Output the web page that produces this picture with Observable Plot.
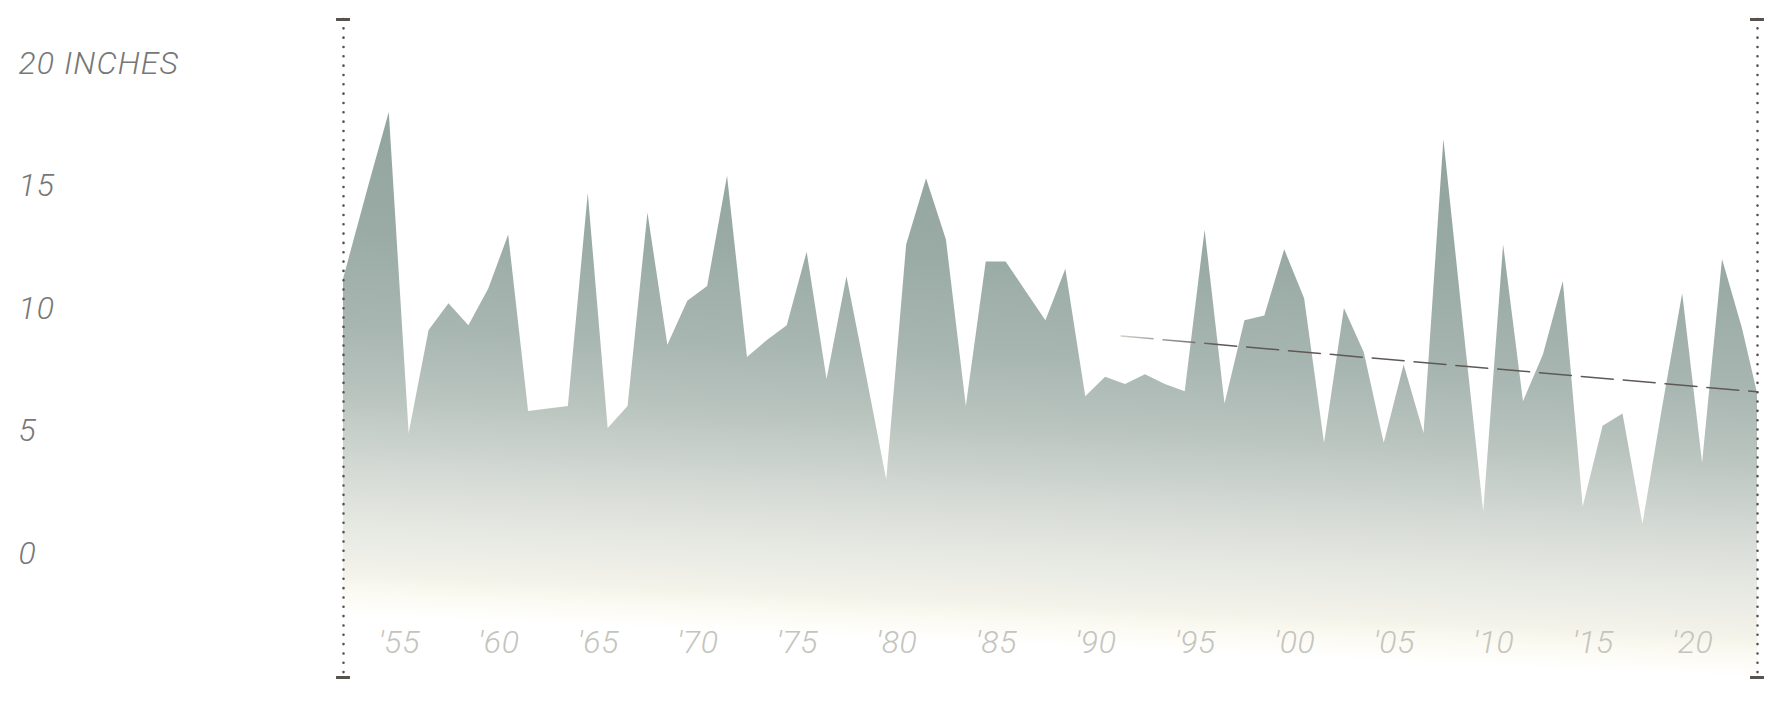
<!DOCTYPE html>
<html>
<head>
<meta charset="utf-8">
<script src="https://cdn.jsdelivr.net/npm/d3@7"></script>
<script src="https://cdn.jsdelivr.net/npm/@observablehq/plot@0.6"></script>
<style>
  html, body { margin: 0; padding: 0; background: #ffffff; }
  #chart svg { display: block; }
</style>
</head>
<body>
<div id="chart"></div>
<script>
// ---- Data (annual totals, inches; plotted at mid-year) ----
const years = [
  1951, 1952, 1953, 1954, 1955, 1956, 1957, 1958, 1959, 1960,
  1961, 1962, 1963, 1964, 1965, 1966, 1967, 1968, 1969, 1970,
  1971, 1972, 1973, 1974, 1975, 1976, 1977, 1978, 1979, 1980,
  1981, 1982, 1983, 1984, 1985, 1986, 1987, 1988, 1989, 1990,
  1991, 1992, 1993, 1994, 1995, 1996, 1997, 1998, 1999, 2000,
  2001, 2002, 2003, 2004, 2005, 2006, 2007, 2008, 2009, 2010,
  2011, 2012, 2013, 2014, 2015, 2016, 2017, 2018, 2019, 2020,
  2021, 2022, 2023
];
const rainfall = [
  9.1, 12.1, 15.1, 18.0, 4.9, 9.1, 10.2, 9.3, 10.8, 13.0,
  5.8, 5.9, 6.0, 14.7, 5.1, 6.0, 13.9, 8.5, 10.3, 10.9,
  15.4, 8.0, 8.7, 9.3, 12.3, 7.1, 11.3, 7.2, 3.0, 12.6,
  15.3, 12.8, 6.0, 11.9, 11.9, 10.7, 9.5, 11.6, 6.4, 7.2,
  6.9, 7.3, 6.9, 6.6, 13.2, 6.1, 9.5, 9.7, 12.4, 10.4,
  4.5, 10.0, 8.2, 4.5, 7.7, 4.9, 16.9, 9.2, 1.7, 12.6,
  6.2, 8.1, 11.1, 1.9, 5.2, 5.7, 1.2, 6.0, 10.6, 3.7,
  12.0, 9.2, 5.7
];

// Trend line (start / end)
const trendYears = [1991.28, 2023.26];
const trendValues = [8.88, 6.6];

// Axis labels
const xTickYears = [1955, 1960, 1965, 1970, 1975, 1980, 1985, 1990, 1995, 2000, 2005, 2010, 2015, 2020];
const xTickLabels = ["'55", "'60", "'65", "'70", "'75", "'80", "'85", "'90", "'95", "'00", "'05", "'10", "'15", "'20"];
const yTickValues = [0, 5, 10, 15, 20];
const yTickLabels = ["0", "5", "10", "15", "20 INCHES"];

// ---- Helpers ----
function yearToDate(y) {
  const yr = Math.floor(y);
  const a = Date.UTC(yr, 0, 1), b = Date.UTC(yr + 1, 0, 1);
  return new Date(a + (y - yr) * (b - a));
}

const xDomain = [yearToDate(1952.2), yearToDate(2023.26)];
const yDomain = [-5.06, 21.8];

const series = years.map((y, i) => ({ date: yearToDate(y + 0.5), value: rainfall[i] }));
const trend = trendYears.map((y, i) => ({ date: yearToDate(y), value: trendValues[i] }));
const xTicks = xTickYears.map((y, i) => ({ date: yearToDate(y), label: xTickLabels[i] }));
const yTicks = yTickValues.map((v, i) => ({ value: v, label: yTickLabels[i] }));

const capHalf = 0.35 * 365.25 * 864e5;
const caps = [];
for (const xe of xDomain) for (const ye of yDomain) {
  caps.push({ y: ye, x1: new Date(xe.getTime() - capHalf), x2: new Date(xe.getTime() + capHalf) });
}

const font = "Roboto, 'Helvetica Neue', Helvetica, Arial, sans-serif";

const plot = Plot.plot({
  width: 1783,
  height: 721,
  marginLeft: 343,
  marginRight: 26,
  marginTop: 19,
  marginBottom: 44,
  style: { background: "transparent", fontFamily: font, overflow: "visible" },
  x: { type: "utc", domain: xDomain, axis: null },
  y: { domain: yDomain, axis: null },
  marks: [
    Plot.areaY(series, {
      x: "date", y1: yDomain[0], y2: "value",
      fill: "url(#rainGrad)", clip: true
    }),
    Plot.lineY(trend, {
      x: "date", y: "value",
      stroke: "url(#trendGrad)", strokeWidth: 1.5,
      strokeDasharray: "32 10", clip: true
    }),
    Plot.ruleX(xDomain, {
      stroke: "#555050", strokeWidth: 2.6,
      strokeDasharray: "0 9.33", strokeLinecap: "round",
      strokeDashoffset: -9.33
    }),
    Plot.ruleY(caps, { y: "y", x1: "x1", x2: "x2", stroke: "#58524f", strokeWidth: 3 }),
    Plot.text(yTicks, {
      y: "value", text: "label",
      frameAnchor: "left", dx: -325, textAnchor: "start", lineAnchor: "middle",
      fontSize: 32, fontStyle: "italic", fontWeight: 300, fill: "#777777"
    }),
    Plot.text(xTicks, {
      x: "date", text: "label",
      frameAnchor: "bottom", dy: -35, textAnchor: "middle", lineAnchor: "middle",
      fontSize: 32, fontStyle: "italic", fontWeight: 300, fill: "#c4c4be"
    })
  ]
});

// Gradients and small typographic tweaks
const svg = d3.select(plot);
svg.selectAll('g[fill="#777777"]').attr("letter-spacing", "1.1px");
svg.selectAll('g[fill="#c4c4be"]').attr("letter-spacing", "0.6px");

const defs = svg.insert("defs", ":first-child");
const L = 700;
const grad = defs.append("linearGradient")
  .attr("id", "rainGrad")
  .attr("gradientUnits", "userSpaceOnUse")
  .attr("x1", 1050).attr("y1", 0)
  .attr("x2", 1050 - 0.0445 * L).attr("y2", L);
const stops = [
  [130, "#92a49e"], [260, "#9aaba6"], [356, "#a8b6b1"], [420, "#b8c3be"],
  [476, "#ccd3ce"], [533, "#e0e3dd"], [574, "#ebece6"], [605, "#f4f3ea"],
  [615, "#f9f8ef"], [628, "#fcfbf5"], [645, "#ffffff"]
];
for (const [y, c] of stops) grad.append("stop").attr("offset", y / L).attr("stop-color", c);

const tg = defs.append("linearGradient")
  .attr("id", "trendGrad")
  .attr("gradientUnits", "userSpaceOnUse")
  .attr("x1", 1118).attr("y1", 0).attr("x2", 1215).attr("y2", 0);
tg.append("stop").attr("offset", 0).attr("stop-color", "#d6d3cf");
tg.append("stop").attr("offset", 1).attr("stop-color", "#5f5854");

document.getElementById("chart").appendChild(plot);
</script>
</body>
</html>
